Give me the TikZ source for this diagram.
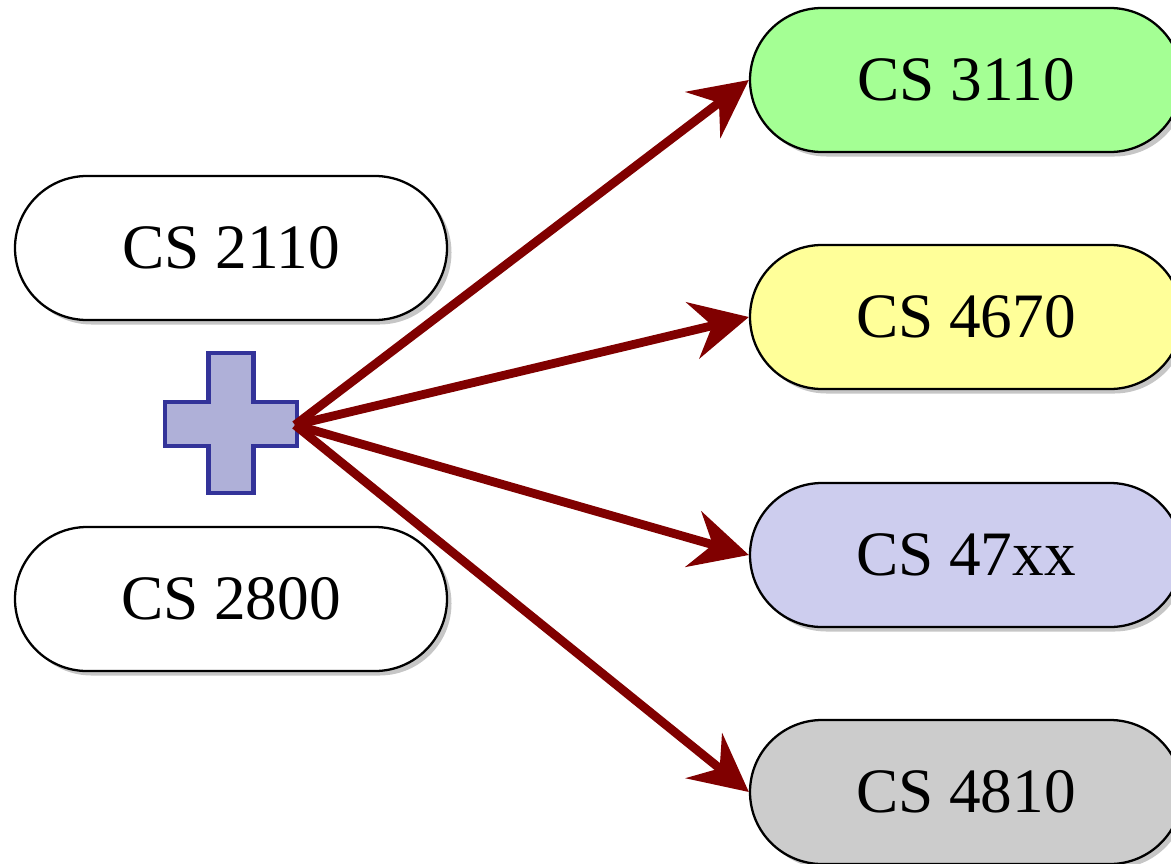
\documentclass[tikz,border=0pt]{standalone}
\usepackage{fontspec}
\setmainfont{Liberation Serif}
\usepackage{tikz}
\usetikzlibrary{arrows.meta,shadows}
\definecolor{crsgreen}{HTML}{A4FF94}
\definecolor{crsyellow}{HTML}{FFFF99}
\definecolor{crsblue}{HTML}{CDCDEE}
\definecolor{crsgray}{HTML}{CCCCCC}
\definecolor{plusfill}{HTML}{AFB0D8}
\definecolor{plusdraw}{HTML}{333399}
\definecolor{arrred}{HTML}{800000}
\tikzset{
  course/.style={rectangle, draw, line width=1.3pt, rounded corners=1.44cm,
    minimum width=8.64cm, minimum height=2.88cm, inner sep=0pt,
    font=\fontsize{36}{42}\selectfont,
    drop shadow={opacity=0.45, shadow xshift=0.09cm, shadow yshift=-0.09cm}},
  plusbox/.style={draw=plusdraw, fill=plusfill, line width=2.8pt},
  leads/.style={draw=arrred, line width=5pt,
    -{Stealth[length=1.15cm, width=1.15cm, inset=0.4cm]}},
}

\begin{document}
\begin{tikzpicture}
  \useasboundingbox (0,0) rectangle (23.42,-17.26);

  % --- prerequisites ---
  \node[course, fill=white] (c2110) at (4.62,-4.96) {CS 2110};
  \node[course, fill=white] (c2800) at (4.62,-11.98) {CS 2800};

  % plus sign
  \draw[plusbox] (4.17,-7.06) -- (5.07,-7.06) -- (5.07,-8.04) -- (5.94,-8.04)
    -- (5.94,-8.92) -- (5.07,-8.92) -- (5.07,-9.86) -- (4.17,-9.86)
    -- (4.17,-8.92) -- (3.30,-8.92) -- (3.30,-8.04) -- (4.17,-8.04) -- cycle;
  \coordinate (join) at (5.90,-8.50);

  % --- follow-up courses ---
  \node[course, fill=crsgreen] (c3110) at (19.32,-1.60) {CS 3110};
  \node[course, fill=crsyellow] (c4670) at (19.32,-6.34) {CS 4670};
  \node[course, fill=crsblue] (c47xx) at (19.32,-11.10) {CS 47xx};
  \node[course, fill=crsgray] (c4810) at (19.32,-15.84) {CS 4810};

  % arrows
  \draw[leads] (join) -- (c3110.west);
  \draw[leads] (join) -- (c4670.west);
  \draw[leads] (join) -- (c47xx.west);
  \draw[leads] (join) -- (c4810.west);
\end{tikzpicture}
\end{document}
